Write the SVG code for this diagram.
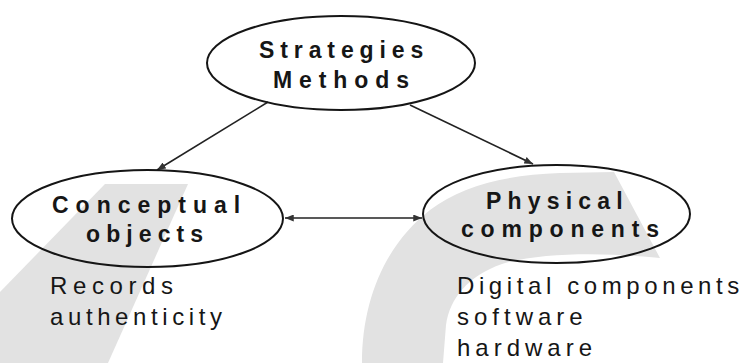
<svg xmlns="http://www.w3.org/2000/svg" width="748" height="363" viewBox="0 0 748 363">
  <style>
    .node-shape { fill: none; stroke: #151515; stroke-width: 2; }
    .title { font-family: "Liberation Sans", Arial, sans-serif; font-weight: bold; font-size: 23px; fill: #161616; }
    .note { font-family: "Liberation Sans", Arial, sans-serif; font-size: 24px; fill: #161616; }
    .link { fill: none; stroke: #222; stroke-width: 1.6; }
  </style>
  <defs>
    <marker id="arrow" viewBox="0 0 10 8" refX="10" refY="4" markerWidth="9" markerHeight="7" markerUnits="userSpaceOnUse" orient="auto-start-reverse">
      <path d="M0,0 L10,4 L0,8 Z" fill="#333"/>
    </marker>
  </defs>

  <rect width="748" height="363" fill="#ffffff"/>

  <!-- background logo shapes -->
  <g id="backdrop" fill="#e2e2e2">
    <polygon points="105,184 188,184 108,363 0,363 0,292"/>
    <path d="M362,363 C362,300 385,245 430,210 C462,186 505,175 560,173 L614,172 L660,258 C612,253 545,251 502,264 C468,276 450,298 446,325 L443,363 Z"/>
  </g>

  <g id="connectors">
    <path class="link" d="M268,102 L157,170" marker-end="url(#arrow)"/>
    <path class="link" d="M410,105 L533,164" marker-end="url(#arrow)"/>
    <path class="link" d="M285,218 L422,218" marker-start="url(#arrow)" marker-end="url(#arrow)"/>
  </g>

  <g id="strategies">
    <ellipse class="node-shape" cx="341" cy="63" rx="134" ry="47"/>
    <text class="title" x="259" y="58" letter-spacing="5.9">Strategies</text>
    <text class="title" x="273" y="88" letter-spacing="6.9">Methods</text>
  </g>

  <g id="conceptual">
    <ellipse class="node-shape" cx="147.5" cy="218.5" rx="135.5" ry="48.5"/>
    <text class="title" x="52" y="213" letter-spacing="7">Conceptual</text>
    <text class="title" x="86" y="242" letter-spacing="6.1">objects</text>
    <text class="note" x="50" y="294" letter-spacing="5.6">Records</text>
    <text class="note" x="50" y="325" letter-spacing="4.6">authenticity</text>
  </g>

  <g id="physical">
    <ellipse class="node-shape" cx="556.5" cy="214" rx="133.5" ry="49"/>
    <text class="title" x="486" y="209" letter-spacing="6.2">Physical</text>
    <text class="title" x="461" y="237" letter-spacing="6.8">components</text>
    <text class="note" x="457" y="294" letter-spacing="4.6">Digital components</text>
    <text class="note" x="457" y="325" letter-spacing="5">software</text>
    <text class="note" x="457" y="356" letter-spacing="5">hardware</text>
  </g>
</svg>
